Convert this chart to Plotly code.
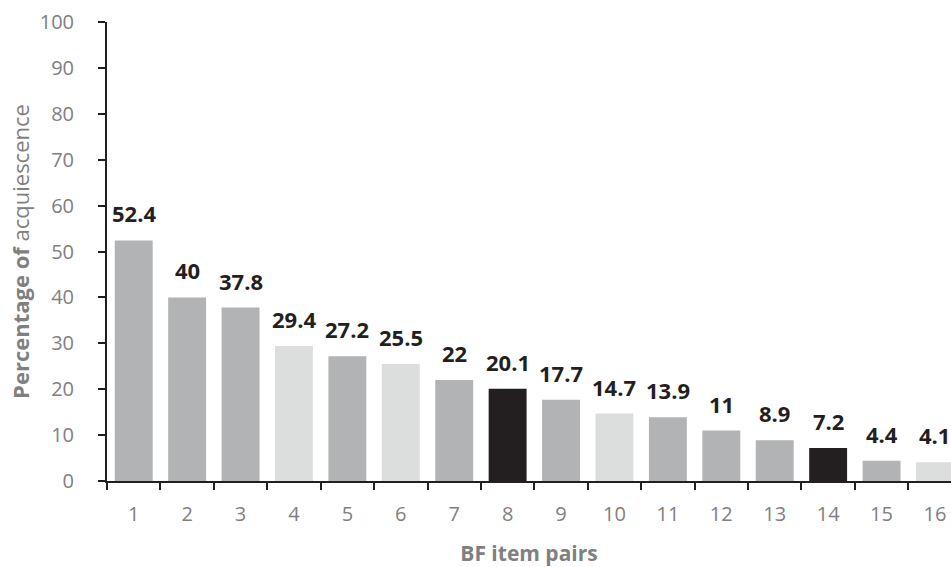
import plotly.graph_objects as go

categories = [str(i) for i in range(1, 17)]
values = [52.4, 40, 37.8, 29.4, 27.2, 25.5, 22, 20.1, 17.7, 14.7, 13.9, 11, 8.9, 7.2, 4.4, 4.1]
labels = ["52.4", "40", "37.8", "29.4", "27.2", "25.5", "22", "20.1", "17.7", "14.7", "13.9", "11", "8.9", "7.2", "4.4", "4.1"]
groups = ["m", "m", "m", "l", "m", "l", "m", "d", "m", "l", "m", "m", "m", "d", "m", "l"]
palette = {"m": "#B2B3B5", "l": "#DCDDDD", "d": "#231F20"}

FONT = "'Open Sans', sans-serif"
xs = list(range(1, 17))

fig = go.Figure()
fig.add_trace(go.Bar(
    x=xs, y=values,
    marker=dict(color=[palette[g] for g in groups], line=dict(width=0)),
    width=0.71,
    hoverinfo="skip",
))
for x, v, t in zip(xs, values, labels):
    fig.add_annotation(x=x, y=v, text="<b>%s</b>" % t, showarrow=False,
                       yanchor="bottom", yshift=10,
                       font=dict(family=FONT, size=22, color="#231F20"))

fig.update_layout(
    width=951, height=567,
    margin=dict(l=107, r=0, t=22, b=86),
    plot_bgcolor="white", paper_bgcolor="white",
    showlegend=False,
    font=dict(family=FONT),
)
fig.update_xaxes(
    range=[0.5, 16.3],
    tickmode="array", tickvals=xs, ticktext=categories,
    showline=True, linecolor="#231F20", linewidth=1.5,
    ticks="", showgrid=False, zeroline=False,
    tickfont=dict(family=FONT, size=20, color="#808080"),
    ticklabelstandoff=14,
    title=dict(text="<b>BF item pairs</b>", font=dict(family=FONT, size=21, color="#808080"), standoff=24),
)
fig.update_xaxes(minor=dict(tickmode="array", tickvals=[i + 0.5 for i in range(0, 17)],
                            ticks="outside", ticklen=7, tickwidth=1.5, tickcolor="#231F20"))
fig.update_yaxes(
    range=[0, 100], dtick=10,
    showline=True, linecolor="#231F20", linewidth=1.5,
    ticks="outside", ticklen=7, tickwidth=1.5, tickcolor="#231F20",
    showgrid=False, zeroline=False,
    tickfont=dict(family=FONT, size=20, color="#808080"),
    ticklabelstandoff=15, ticksuffix=" ",
    title=dict(text="<b>Percentage of</b> acquiescence", font=dict(family=FONT, size=22, color="#808080"), standoff=4),
)

fig.write_html("out.html")
